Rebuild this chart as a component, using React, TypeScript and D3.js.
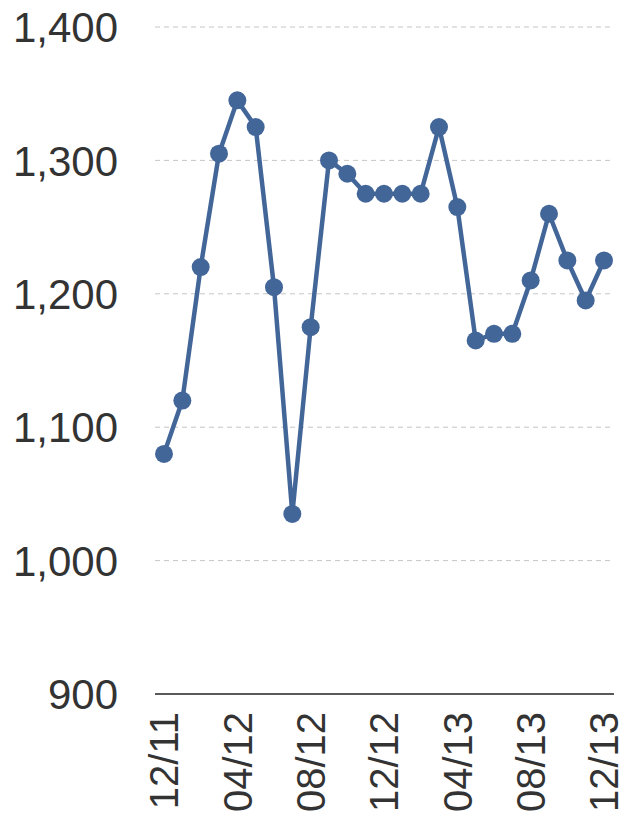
import React from "react";
import * as d3 from "d3";

const months = [
  "12/11", "01/12", "02/12", "03/12", "04/12", "05/12", "06/12", "07/12", "08/12",
  "09/12", "10/12", "11/12", "12/12", "01/13", "02/13", "03/13", "04/13", "05/13",
  "06/13", "07/13", "08/13", "09/13", "10/13", "11/13", "12/13",
];
const values = [
  1080, 1120, 1220, 1305, 1345, 1325, 1205, 1035, 1175, 1300, 1290, 1275, 1275,
  1275, 1275, 1325, 1265, 1165, 1170, 1170, 1210, 1260, 1225, 1195, 1225,
];
const yTicks = [900, 1000, 1100, 1200, 1300, 1400];
const xTickLabels = ["12/11", "04/12", "08/12", "12/12", "04/13", "08/13", "12/13"];

const W = 626;
const H = 816;
const color = "#436699";

export default function App() {
  const x = d3.scalePoint<string>().domain(months).range([164, 604]);
  const y = d3.scaleLinear().domain([900, 1400]).range([694, 27]);
  const fmt = d3.format(",");

  const line = d3
    .line<number>()
    .x((d, i) => x(months[i])!)
    .y((d) => y(d));

  return (
    <svg
      width={W}
      height={H}
      style={{ position: "absolute", left: 0, top: 0 }}
      fontFamily="Liberation Sans, Arial, sans-serif"
    >
      {/* gridlines */}
      {yTicks.slice(1).map((t) => (
        <line
          key={t}
          x1={155}
          x2={614}
          y1={y(t)}
          y2={y(t)}
          stroke="#c6c6c6"
          strokeWidth={1}
          strokeDasharray="5,4"
        />
      ))}
      {yTicks.map((t) => (
        <text
          key={t}
          x={118}
          y={y(t)}
          dy="0.36em"
          textAnchor="end"
          fontSize={42}
          fill="#333"
        >
          {fmt(t)}
        </text>
      ))}
      <line x1={155} x2={614} y1={y(900)} y2={y(900)} stroke="#222" strokeWidth={1.5} />
      {xTickLabels.map((m) => (
        <text
          key={m}
          transform={`translate(${x(m)},712) rotate(-90)`}
          dy="0.36em"
          textAnchor="end"
          fontSize={40}
          fill="#333"
        >
          {m}
        </text>
      ))}
      <path d={line(values)!} fill="none" stroke={color} strokeWidth={4.5} strokeLinejoin="round" />
      {values.map((v, i) => (
        <circle key={i} cx={x(months[i])} cy={y(v)} r={9} fill={color} />
      ))}
    </svg>
  );
}
